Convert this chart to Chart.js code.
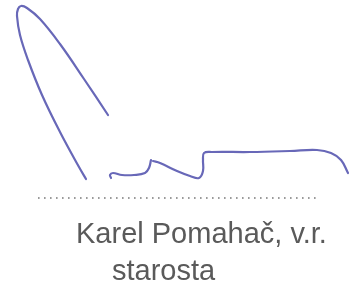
<!DOCTYPE html>
<html>
<head>
<meta charset="utf-8">
<script src="https://cdn.jsdelivr.net/npm/chart.js@4"></script>
<style>
  html, body { margin: 0; padding: 0; background: #fff; }
  #wrap { position: relative; width: 350px; height: 288px; overflow: hidden; }
  #sig { position: absolute; left: 0; top: 0; }
  .txt { position: absolute; font-family: "Liberation Sans", Arial, sans-serif; color: #5a5a5a; font-size: 29px; line-height: 1; white-space: nowrap; }
  #name { left: 76px; top: 219px; }
  #role { left: 112px; top: 256px; }
</style>
</head>
<body>
<div id="wrap">
  <canvas id="sig" width="350" height="288"></canvas>
  <div class="txt" id="name">Karel Pomahač, v.r.</div>
  <div class="txt" id="role">starosta</div>
</div>
<script>
// Signature strokes (page pixel coordinates)
const loopX = [86, 79, 60, 42, 28, 20, 17, 18, 21, 27, 40, 60, 84, 108];
const loopY = [179, 167, 132, 95, 60, 35, 16, 9, 6, 8, 19, 44, 79, 115];

const hookX = [111, 110, 113, 122, 134, 145, 149, 151];
const hookY = [178, 175, 173, 175, 175, 173, 168, 160];

const tailX = [153, 160, 177, 190, 199, 203, 203, 204, 212, 250, 290, 317, 331, 341, 348];
const tailY = [161, 163, 171, 176, 178, 171, 160, 153, 152, 152, 151, 150, 153, 160, 173];

// Dotted signature line
const dotsX = [38, 317];
const dotsY = [198, 198];

const inkColor = '#6868b8';

function toPoints(xs, ys) {
    return xs.map((x, i) => ({ x: x, y: ys[i] }));
}

function stroke(xs, ys) {
    return {
        data: toPoints(xs, ys),
        showLine: true,
        borderColor: inkColor,
        borderWidth: 2.2,
        pointRadius: 0,
        tension: 0.4,
        borderCapStyle: 'round',
        borderJoinStyle: 'round'
    };
}

new Chart(document.getElementById('sig'), {
    type: 'scatter',
    data: {
        datasets: [
            stroke(loopX, loopY),
            stroke(hookX, hookY),
            stroke(tailX, tailY),
            {
                data: toPoints(dotsX, dotsY),
                showLine: true,
                borderColor: '#7a7a7a',
                borderWidth: 1.6,
                borderDash: [1.6, 4.4],
                pointRadius: 0
            }
        ]
    },
    options: {
        responsive: false,
        animation: false,
        layout: { padding: 0 },
        plugins: {
            legend: { display: false },
            tooltip: { enabled: false }
        },
        scales: {
            x: { type: 'linear', min: 0, max: 350, display: false },
            y: { type: 'linear', min: 0, max: 288, reverse: true, display: false }
        }
    }
});
</script>
</body>
</html>
